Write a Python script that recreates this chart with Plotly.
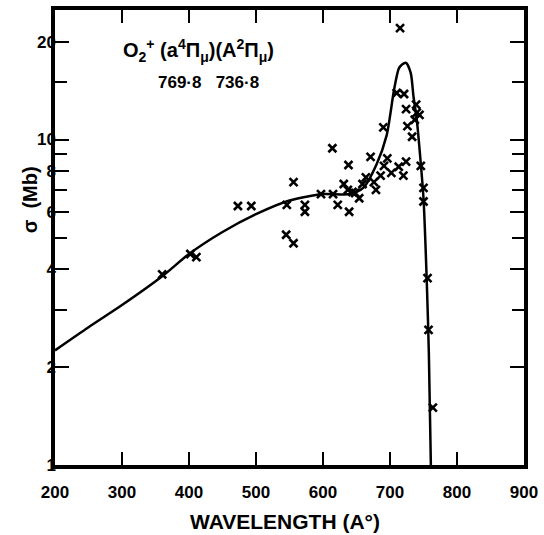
import plotly.graph_objects as go

# Measured cross sections (crosses)
pt_wavelength = [360, 402, 411, 473, 493, 546, 545, 556, 556, 573, 573, 597, 614, 615, 622,
                 631, 637, 638, 639, 644, 648, 654, 659, 664, 671, 676, 679, 686, 690, 691,
                 696, 702, 710, 713, 715, 720, 721, 724, 724, 726, 733, 737, 739, 740, 744,
                 746, 750, 750, 756, 757.5, 764]
pt_sigma = [3.85, 4.45, 4.35, 6.25, 6.25, 6.3, 5.1, 4.8, 7.4, 6.3, 6.0, 6.8, 9.4, 6.8, 6.3,
            7.3, 7.0, 8.35, 6.0, 6.9, 6.85, 6.6, 7.3, 7.65, 8.85, 7.4, 7.0, 7.75, 10.9, 8.3,
            8.75, 7.9, 13.9, 8.25, 22.0, 7.75, 13.8, 8.55, 12.4, 11.0, 10.2, 11.5, 12.8, 12.1, 11.9,
            8.3, 7.1, 6.45, 3.75, 2.6, 1.5]

# Smooth curve
cv_wavelength = [200, 250, 300, 360, 400, 450, 500, 550, 600, 640, 660, 680, 695, 706, 713,
                 718, 724, 731, 735, 740, 745, 750, 755, 758, 761]
cv_sigma = [2.25, 2.65, 3.1, 3.8, 4.45, 5.2, 5.9, 6.5, 6.8, 6.8, 7.1, 8.4, 10.3, 14.2, 16.5,
            17.0, 17.2, 16.0, 13.6, 11.5, 8.9, 6.6, 3.6, 2.2, 1.0]

x_ticks = [200, 300, 400, 500, 600, 700, 800, 900]
y_ticks = [1, 2, 4, 6, 8, 10, 20]
y_minor = [3, 5, 7, 9, 15]

FONT = "Liberation Sans"

fig = go.Figure()
fig.add_trace(go.Scatter(x=cv_wavelength, y=cv_sigma, mode="lines",
                         line=dict(color="black", width=2.5, shape="spline", smoothing=0.7),
                         hoverinfo="skip"))
fig.add_trace(go.Scatter(x=pt_wavelength, y=pt_sigma, mode="markers",
                         marker=dict(symbol="x-thin", size=8, color="black",
                                     line=dict(color="black", width=2.6))))

fig.update_xaxes(range=[200, 900], tickvals=x_ticks, ticktext=[str(v) for v in x_ticks],
                 showgrid=False, zeroline=False, showline=True, linecolor="black", linewidth=3.5,
                 mirror="allticks", ticks="inside", ticklen=13, tickwidth=1.5, tickcolor="black",
                 ticklabelstandoff=9, ticklabeloverflow="allow",
                 tickfont=dict(family=FONT, size=17, color="black", weight="bold"))
fig.update_yaxes(type="log", range=[0, 1.398], tickvals=y_ticks, ticktext=[str(v) for v in y_ticks],
                 showgrid=False, zeroline=False, showline=True, linecolor="black", linewidth=3.5,
                 mirror="allticks", ticks="inside", ticklen=14, tickwidth=1.5, tickcolor="black",
                 ticklabelstandoff=-8,
                 minor=dict(tickvals=y_minor, ticks="inside", ticklen=12, tickwidth=1.5,
                            tickcolor="black", showgrid=False),
                 tickfont=dict(family=FONT, size=17, color="black", weight="bold"))

fig.add_annotation(text="WAVELENGTH (A°)", xref="paper", yref="paper", x=0.49, y=-0.124,
                   xanchor="center", yanchor="middle", showarrow=False,
                   font=dict(family=FONT, size=21, color="black", weight="bold"))
fig.add_annotation(text="σ  (Mb)", xref="paper", yref="paper", x=-0.053, y=0.582,
                   xanchor="center", yanchor="middle", textangle=-90, showarrow=False,
                   font=dict(family=FONT, size=20, color="black", weight="bold"))
fig.add_annotation(text="O<sub>2</sub><sup>+</sup> (a<sup>4</sup>Π<sub>μ</sub>)(A<sup>2</sup>Π<sub>μ</sub>)",
                   xref="paper", yref="paper", x=0.14, y=0.911, xanchor="left", yanchor="middle",
                   showarrow=False, font=dict(family=FONT, size=20, color="black", weight="bold"))
fig.add_annotation(text="769·8   736·8", xref="paper", yref="paper", x=0.215, y=0.841,
                   xanchor="left", yanchor="middle", showarrow=False,
                   font=dict(family=FONT, size=17, color="black", weight="bold"))

fig.update_layout(width=544, height=535, margin=dict(l=55, r=14, t=6, b=70),
                  paper_bgcolor="white", plot_bgcolor="white", showlegend=False)

fig.write_html("out.html", config={"displayModeBar": False},
               post_script="document.body.style.margin='0';document.body.style.overflow='hidden';")
